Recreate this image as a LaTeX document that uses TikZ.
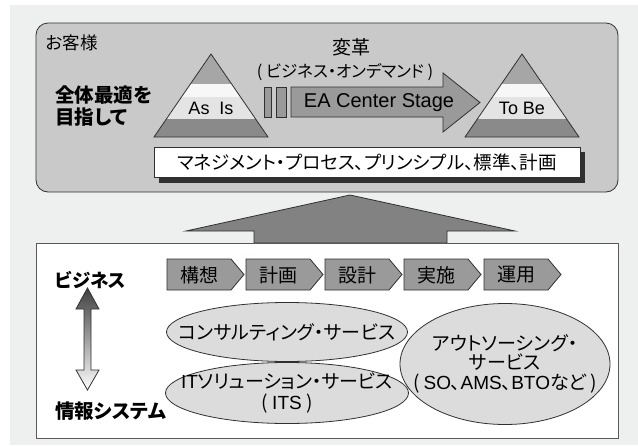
\documentclass[tikz,border=0pt]{standalone}
\usepackage{fontspec}
\setmainfont{Liberation Sans}
\newfontfamily\jp[RawFeature={+palt}]{Noto Sans CJK JP}
\usetikzlibrary{shapes.geometric}
\definecolor{bgc}{HTML}{EEF0F0}
\definecolor{topc}{HTML}{C9C9C9}
\definecolor{pyA}{HTML}{A6A6A6}
\definecolor{pyW}{HTML}{F7F7F7}
\definecolor{pyL}{HTML}{E4E4E4}
\definecolor{pyD}{HTML}{8A8A8A}
\definecolor{arrc}{HTML}{9A9A9A}
\definecolor{bigc}{HTML}{828282}
\definecolor{ellc}{HTML}{DCDCDC}
\definecolor{edgec}{HTML}{303030}
\newcommand\myfs[1]{\fontsize{#1}{#1}\selectfont}
\newcommand\lat[1]{{\rmfamily #1}}
\newcommand\drawpyr[1]{%
  \begin{scope}[xshift=#1]
    \begin{scope}
      \clip (0,54) -- (57,137) -- (-57,137) -- cycle;
      \fill[pyA] (-60,50) rectangle (60,84);
      \fill[pyW] (-60,84) rectangle (60,97);
      \fill[pyL] (-60,97) rectangle (60,119);
      \fill[pyD] (-60,119) rectangle (60,140);
    \end{scope}
    \draw[edge] (0,54) -- (57,137) -- (-57,137) -- cycle;
  \end{scope}}
\newcommand\chev[3]{%
  \draw[edge, fill=arrc] (#1,259) -- ++(64,0) -- ++(13,15.5) -- ++(-13,15.5) -- ++(-64,0) -- cycle;
  \node[chevtxt] (#2) at (#1+32,275) {#3};}
\tikzset{
  edge/.style={draw=edgec, line width=0.8pt},
  jptxt/.style={font=\jp\myfs{17.5}, inner sep=0pt},
  chevtxt/.style={font=\jp\myfs{19}, inner sep=0pt},
  ell/.style={ellipse, draw=edgec, line width=0.8pt, fill=ellc, inner sep=0pt},
  elltxt/.style={inner sep=0pt, align=center, font=\jp\myfs{19}},
}
\begin{document}
\begin{tikzpicture}[x=1pt, y=-1pt]
\useasboundingbox (0,0) rectangle (638,445);
\fill[bgc] (10,5) rectangle (638,445);
% top box
\draw[edge, fill=topc, rounded corners=12pt] (36,23) rectangle (618,192);
\node[jptxt, anchor=west] (kyaku) at (46,43) {お客様};
\node[jptxt, anchor=west, font=\jp\bfseries\myfs{19.5}, align=left] (goal) at (55,106) {全体最適を\\[2pt]目指して};
% pyramids
\drawpyr{211}
\drawpyr{522}
\node[font=\myfs{18}, inner sep=0pt] (asis) at (211,108) {As~ Is};
\node[font=\myfs{18}, inner sep=0pt] (tobe) at (522,108) {To Be};
% transformation arrow
\draw[edge, fill=arrc] (264,87) rectangle (271,117);
\draw[edge, fill=arrc] (276,87) rectangle (286,117);
\draw[edge, fill=arrc] (291,87) -- (443,87) -- (443,73) -- (480,102.5) -- (443,132) -- (443,117) -- (291,117) -- cycle;
\node[font=\myfs{20}, inner sep=0pt] (ea) at (379,103) {EA Center Stage};
\node[jptxt, font=\jp\myfs{19}] (henkaku) at (351,47) {変革};
\node[jptxt, font=\jp\myfs{16.5}] (ondemand) at (345,72) {( ビジネス・オンデマンド )};
% management box
\fill[edgec] (159,152) rectangle (585,183);
\node[draw=edgec, line width=0.8pt, fill=white, minimum width=426pt, minimum height=30pt, inner sep=0pt, font=\jp\myfs{18.5}] (mgmt) at (367,162) {マネジメント・プロセス、プリンシプル、標準、計画};
% big arrow
\draw[edge, fill=bigc] (254,243) -- (254,231) -- (186,231) -- (350,195) -- (515,231) -- (447,231) -- (447,243) -- cycle;
% bottom box
\draw[draw=edgec!80, line width=0.8pt, fill=white] (36,243) rectangle (618,438);
\node[jptxt, anchor=west, font=\jp\bfseries\myfs{18.5}] (biz) at (55,280) {ビジネス};
\node[jptxt, anchor=west, font=\jp\bfseries\myfs{19.5}] (infosys) at (55,411) {情報システム};
% gradient double arrow
\shade[top color=black!75, bottom color=white, draw=edgec, line width=0.8pt]
  (87.5,288) -- (99,309) -- (91,309) -- (91,370) -- (99,370) -- (87.5,390) -- (76,370) -- (84,370) -- (84,309) -- (76,309) -- cycle;
% chevrons
\chev{167}{c1}{構想}
\chev{246}{c2}{計画}
\chev{325}{c3}{設計}
\chev{404}{c4}{実施}
\chev{484}{c5}{運用}
% ellipses
\node[ell, minimum width=241pt, minimum height=59pt] (cons) at (287,332) {};
\node[ell, minimum width=243pt, minimum height=61pt] (its) at (287,393) {};
\node[ell, minimum width=210pt, minimum height=121pt] (outs) at (505,364) {};
\node[elltxt] (constxt) at (cons.center) {コンサルティング・サービス};
\node[elltxt] (itstxt) at (its.center) {\lat{IT}ソリューション・サービス\\[2pt]( \lat{ITS} )};
\node[elltxt] (outstxt) at (outs.center) {アウトソーシング・\\[0pt]サービス\\[1pt]( \lat{SO}、\lat{AMS}、\lat{BTO}など )};
\end{tikzpicture}
\end{document}
